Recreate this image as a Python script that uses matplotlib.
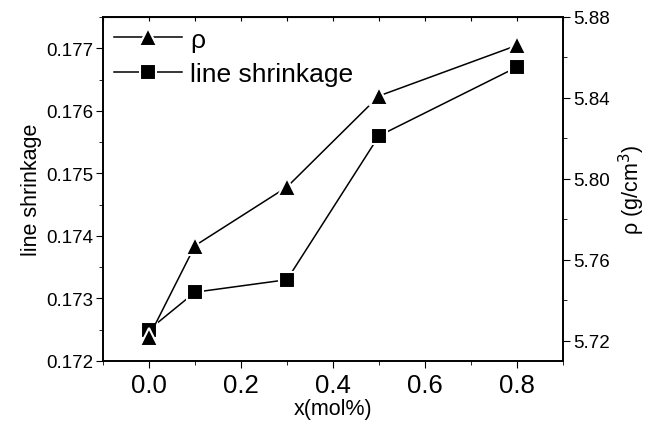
import matplotlib
matplotlib.use("Agg")
import matplotlib.pyplot as plt
from matplotlib.ticker import MultipleLocator

plt.rcParams['font.family'] = ['Liberation Sans', 'DejaVu Sans']

x = [0.0, 0.1, 0.3, 0.5, 0.8]
shrinkage = [0.1725, 0.1731, 0.1733, 0.1756, 0.1767]
rho = [5.722, 5.767, 5.796, 5.841, 5.866]

fig = plt.figure(figsize=(6.56, 4.27), dpi=100)
ax = fig.add_axes([103/656, 1 - 362/427, 460/656, 344/427])
ax2 = ax.twinx()

l1, = ax.plot(x, shrinkage, color='black', lw=1.1, marker='s', ms=11,
              mfc='black', mec='white', mew=1.5, label='line shrinkage')
l2, = ax2.plot(x, rho, color='black', lw=1.1, marker='^', ms=13,
               mfc='black', mec='white', mew=1.5, label='ρ')

ax.set_xlim(-0.1, 0.9)
ax.set_ylim(0.172, 0.1775)
ax2.set_ylim(5.71, 5.88)

ax.xaxis.set_major_locator(MultipleLocator(0.2))
ax.xaxis.set_minor_locator(MultipleLocator(0.1))
ax.yaxis.set_major_locator(MultipleLocator(0.001))
ax.yaxis.set_minor_locator(MultipleLocator(0.0005))
ax2.yaxis.set_major_locator(MultipleLocator(0.04))
ax2.yaxis.set_minor_locator(MultipleLocator(0.02))
ax.xaxis.set_major_formatter(plt.FuncFormatter(lambda v, p: f"{v:.1f}"))
ax.yaxis.set_major_formatter(plt.FuncFormatter(lambda v, p: f"{v:.3f}"))
ax2.yaxis.set_major_formatter(plt.FuncFormatter(lambda v, p: f"{v:.2f}"))

ax.tick_params(axis='x', which='major', labelsize=18.5, length=5, direction='out')
ax.tick_params(axis='x', which='minor', length=3, direction='out')
ax.tick_params(axis='y', which='major', labelsize=13.5, length=5, direction='out', pad=2)
ax.tick_params(axis='y', which='minor', length=3, direction='out')
ax2.tick_params(axis='y', which='major', labelsize=13.5, length=5, direction='out', pad=2)
ax2.tick_params(axis='y', which='minor', length=3, direction='out')

# small inward ticks along the top edge
top = ax.secondary_xaxis('top')
top.xaxis.set_major_locator(MultipleLocator(0.1))
top.tick_params(direction='in', length=3, labeltop=False)

ax.set_xlabel('x(mol%)', fontsize=15.5, labelpad=1)
ax.set_ylabel('line shrinkage', fontsize=15.5, labelpad=3)
ax2.set_ylabel('ρ (g/cm$^3$)', fontsize=15.5, labelpad=5)

for a in (ax, ax2):
    for s in a.spines.values():
        s.set_linewidth(1.2)

leg = ax.legend([l2, l1], ['ρ', 'line shrinkage'], loc='upper left',
                frameon=False, fontsize=19, handlelength=2.6, handletextpad=0.3,
                borderaxespad=0.1, labelspacing=0.4, borderpad=0.3)

fig.savefig('out.png', dpi=100)
